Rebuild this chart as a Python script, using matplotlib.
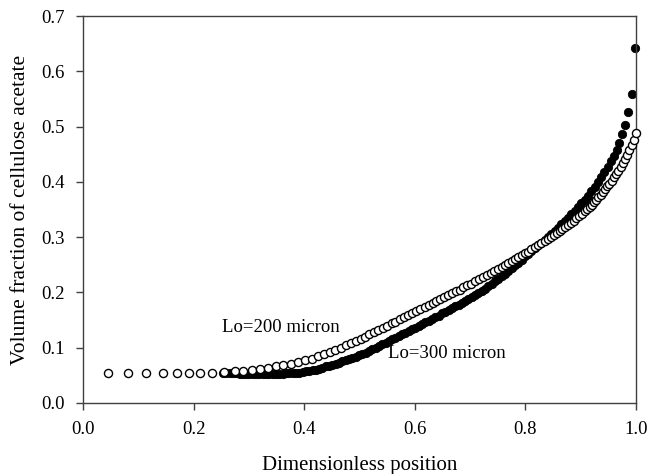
import matplotlib
matplotlib.use("Agg")
import matplotlib.pyplot as plt

# Lo=200 micron (open circles)
x_200 = [0.045, 0.081, 0.114, 0.145, 0.170, 0.191, 0.212, 0.234, 0.255, 0.274,
         0.290, 0.306, 0.320, 0.335, 0.349, 0.362, 0.376, 0.389, 0.401, 0.414,
         0.425, 0.436, 0.446, 0.456, 0.466, 0.475, 0.484, 0.493, 0.502, 0.510,
         0.518, 0.526, 0.534, 0.542, 0.550, 0.558, 0.565, 0.573, 0.580, 0.588,
         0.595, 0.603, 0.610, 0.618, 0.625, 0.632, 0.639, 0.646, 0.653, 0.660,
         0.667, 0.674, 0.681, 0.688, 0.695, 0.702, 0.709, 0.716, 0.723, 0.730,
         0.737, 0.744, 0.751, 0.757, 0.763, 0.769, 0.775, 0.781, 0.787, 0.793,
         0.799, 0.805, 0.811, 0.817, 0.823, 0.829, 0.835, 0.841, 0.847, 0.852,
         0.857, 0.862, 0.867, 0.872, 0.877, 0.882, 0.887, 0.892, 0.897, 0.902,
         0.907, 0.912, 0.916, 0.920, 0.924, 0.928, 0.932, 0.936, 0.940, 0.944,
         0.948, 0.952, 0.956, 0.960, 0.964, 0.968, 0.972, 0.976, 0.980, 0.984,
         0.988, 0.992, 0.996, 1.000]
y_200 = [0.055, 0.055, 0.055, 0.055, 0.055, 0.055, 0.055, 0.055, 0.056, 0.057,
         0.058, 0.060, 0.062, 0.064, 0.066, 0.068, 0.071, 0.074, 0.077, 0.080,
         0.084, 0.088, 0.092, 0.096, 0.100, 0.104, 0.108, 0.112, 0.116, 0.120,
         0.124, 0.128, 0.132, 0.136, 0.140, 0.144, 0.147, 0.151, 0.155, 0.159,
         0.162, 0.166, 0.170, 0.174, 0.177, 0.181, 0.185, 0.188, 0.192, 0.195,
         0.198, 0.202, 0.205, 0.209, 0.213, 0.216, 0.220, 0.224, 0.227, 0.231,
         0.235, 0.239, 0.243, 0.246, 0.250, 0.253, 0.257, 0.260, 0.264, 0.267,
         0.271, 0.274, 0.278, 0.282, 0.285, 0.289, 0.293, 0.297, 0.301, 0.304,
         0.308, 0.311, 0.315, 0.318, 0.322, 0.326, 0.330, 0.334, 0.338, 0.342,
         0.347, 0.351, 0.355, 0.359, 0.364, 0.368, 0.373, 0.377, 0.382, 0.387,
         0.392, 0.397, 0.402, 0.408, 0.414, 0.420, 0.427, 0.434, 0.441, 0.449,
         0.457, 0.466, 0.476, 0.488]

# Lo=300 micron (filled circles)
x_300 = [0.253, 0.259, 0.265, 0.271, 0.277, 0.283, 0.289, 0.295, 0.301, 0.307,
         0.313, 0.319, 0.325, 0.331, 0.337, 0.343, 0.349, 0.355, 0.361, 0.367,
         0.373, 0.379, 0.385, 0.391, 0.397, 0.403, 0.409, 0.415, 0.421, 0.427,
         0.433, 0.439, 0.445, 0.451, 0.457, 0.463, 0.469, 0.475, 0.481, 0.487,
         0.493, 0.499, 0.505, 0.511, 0.517, 0.523, 0.529, 0.535, 0.541, 0.547,
         0.553, 0.559, 0.565, 0.571, 0.577, 0.583, 0.589, 0.595, 0.601, 0.607,
         0.613, 0.619, 0.625, 0.631, 0.637, 0.643, 0.649, 0.655, 0.661, 0.667,
         0.673, 0.679, 0.685, 0.691, 0.697, 0.703, 0.709, 0.715, 0.721, 0.727,
         0.733, 0.739, 0.745, 0.751, 0.757, 0.763, 0.769, 0.775, 0.781, 0.787,
         0.793, 0.799, 0.805, 0.811, 0.817, 0.823, 0.829, 0.835, 0.841, 0.847,
         0.853, 0.859, 0.865, 0.871, 0.877, 0.883, 0.889, 0.895, 0.901, 0.907,
         0.913, 0.919, 0.925, 0.931, 0.937, 0.943, 0.949, 0.955, 0.960, 0.965,
         0.970, 0.975, 0.980, 0.986, 0.993, 0.999]
y_300 = [0.055, 0.055, 0.054, 0.054, 0.054, 0.053, 0.053, 0.053, 0.053, 0.053,
         0.053, 0.053, 0.053, 0.053, 0.053, 0.053, 0.053, 0.053, 0.053, 0.054,
         0.054, 0.054, 0.055, 0.055, 0.056, 0.057, 0.058, 0.059, 0.060, 0.062,
         0.064, 0.066, 0.067, 0.069, 0.071, 0.073, 0.075, 0.077, 0.079, 0.081,
         0.083, 0.086, 0.088, 0.091, 0.094, 0.097, 0.100, 0.103, 0.106, 0.109,
         0.112, 0.115, 0.118, 0.121, 0.124, 0.127, 0.130, 0.133, 0.136, 0.139,
         0.143, 0.146, 0.149, 0.152, 0.155, 0.158, 0.162, 0.165, 0.168, 0.171,
         0.175, 0.178, 0.181, 0.185, 0.188, 0.192, 0.195, 0.199, 0.203, 0.207,
         0.211, 0.215, 0.220, 0.224, 0.229, 0.234, 0.239, 0.244, 0.249, 0.254,
         0.259, 0.265, 0.270, 0.275, 0.280, 0.285, 0.290, 0.295, 0.300, 0.306,
         0.311, 0.317, 0.323, 0.329, 0.335, 0.341, 0.347, 0.354, 0.361, 0.368,
         0.375, 0.383, 0.391, 0.399, 0.408, 0.417, 0.427, 0.437, 0.447, 0.458,
         0.470, 0.486, 0.503, 0.526, 0.559, 0.642]

x_ticks = [0.0, 0.2, 0.4, 0.6, 0.8, 1.0]
y_ticks = [0.0, 0.1, 0.2, 0.3, 0.4, 0.5, 0.6, 0.7]

plt.rcParams['font.family'] = ['Liberation Serif', 'DejaVu Serif']

fig = plt.figure(figsize=(6.61, 4.74), dpi=100)
ax = fig.add_axes([0.1256, 0.150, 0.8366, 0.816])

ax.scatter(x_300, y_300, s=36, facecolor='black', edgecolor='black',
           linewidths=0.6, zorder=2, clip_on=False)
ax.scatter(x_200, y_200, s=34, facecolor='white', edgecolor='black',
           linewidths=1.0, zorder=3, clip_on=False)

ax.text(0.251, 0.137, 'Lo=200 micron', fontsize=13.5, va='center', ha='left')
ax.text(0.552, 0.090, 'Lo=300 micron', fontsize=13.5, va='center', ha='left')

ax.set_xlim(0, 1.0)
ax.set_ylim(0, 0.7)
ax.set_xticks(x_ticks)
ax.set_yticks(y_ticks)
ax.set_xticklabels([f'{v:.1f}' for v in x_ticks])
ax.set_yticklabels([f'{v:.1f}' for v in y_ticks])
ax.tick_params(direction='out', length=5, width=1, labelsize=13.5,
               color='#404040', pad=8)
for sp in ax.spines.values():
    sp.set_color('#404040')
    sp.set_linewidth(1.0)

ax.set_xlabel('Dimensionless position', fontsize=15, labelpad=13)
ax.set_ylabel('Volume fraction of cellulose acetate', fontsize=15.5, labelpad=8)

fig.savefig('out.png', dpi=100)
